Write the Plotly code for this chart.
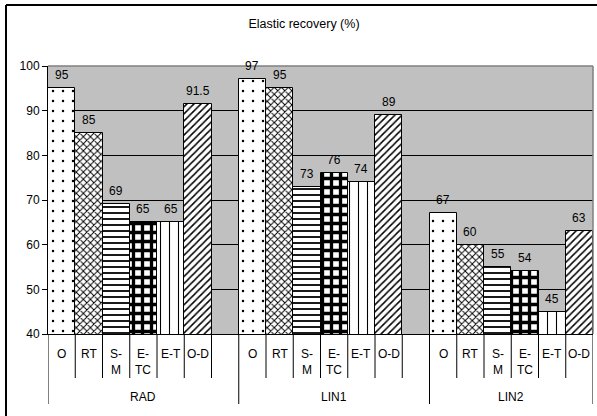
import plotly.graph_objects as go

# ---- data ----
groups = ["RAD", "LIN1", "LIN2"]
categories = ["O", "RT", "S-M", "E-TC", "E-T", "O-D"]
category_labels = ["O", "RT", "S-<br>M", "E-<br>TC", "E-T", "O-D"]
rad_values = [95, 85, 69, 65, 65, 91.5]
lin1_values = [97, 95, 73, 76, 74, 89]
lin2_values = [67, 60, 55, 54, 45, 63]
y_ticks = [40, 50, 60, 70, 80, 90, 100]
title_text = "Elastic recovery (%)"

group_values = [rad_values, lin1_values, lin2_values]
slots_per_group = len(categories) + 1  # one empty slot after each group (as in the original)
n_slots = slots_per_group * (len(groups) - 1) + len(categories)

patterns = {
    "O": dict(shape=".", size=10, solidity=0.05),
    "RT": dict(shape="x", size=5, solidity=0.35),
    "S-M": dict(shape="-", size=6, solidity=0.3),
    "E-TC": dict(shape="+", size=9, solidity=0.6),
    "E-T": dict(shape="|", size=9, solidity=0.12),
    "O-D": dict(shape="/", size=5, solidity=0.3),
}

FONT = "Liberation Sans, Arial, sans-serif"

fig = go.Figure()
annotations = []
for ci, cat in enumerate(categories):
    xs = [gi * slots_per_group + ci for gi in range(len(groups))]
    ys = [gv[ci] for gv in group_values]
    p = patterns[cat]
    fig.add_trace(go.Bar(
        x=xs, y=ys, width=1, name=cat,
        marker=dict(color="white", line=dict(color="black", width=1),
                    pattern=dict(shape=p["shape"], size=p["size"], solidity=p["solidity"],
                                 fgcolor="black", bgcolor="white", fillmode="replace")),
        showlegend=False, hoverinfo="x+y",
    ))
    for x, y in zip(xs, ys):
        annotations.append(dict(x=x, y=y, xref="x", yref="y", text=f"{y:g}", showarrow=False,
                                yanchor="bottom", yshift=4, font=dict(size=12, family=FONT, color="black")))
        annotations.append(dict(x=x, y=0, xref="x", yref="paper", text=category_labels[ci],
                                showarrow=False, yanchor="top", yshift=-11,
                                font=dict(size=12, family=FONT, color="black")))

# group labels
for gi, g in enumerate(groups):
    start = gi * slots_per_group - 0.5
    end = min(start + slots_per_group, n_slots - 0.5)
    annotations.append(dict(x=(start + end) / 2, y=0, xref="x", yref="paper", text=g, showarrow=False,
                            yanchor="top", yshift=-54, font=dict(size=12, family=FONT, color="black")))

plot_h = 416 - 66 - 82
shapes = []
group_bounds = [gi * slots_per_group for gi in range(len(groups))] + [n_slots]
for k in range(n_slots + 1):
    long = k in group_bounds
    depth = 70 if long else 44
    shapes.append(dict(type="line", xref="x", yref="paper", x0=k - 0.5, x1=k - 0.5,
                       y0=0, y1=-depth / plot_h, line=dict(color="black", width=1)))

# plot-area border (top / right, gray)
shapes.append(dict(type="line", xref="paper", yref="paper", x0=0, x1=1, y0=1, y1=1,
                   line=dict(color="#808080", width=1.5)))
shapes.append(dict(type="line", xref="paper", yref="paper", x0=1, x1=1, y0=0, y1=1,
                   line=dict(color="#808080", width=1.5)))
# chart border (top / left)
plot_w = 597 - 48 - 4
shapes.append(dict(type="line", xref="paper", yref="paper", x0=(6 - 48) / plot_w, x1=1.1,
                   y0=1 + (66 - 5) / plot_h, y1=1 + (66 - 5) / plot_h, line=dict(color="black", width=2)))
shapes.append(dict(type="line", xref="paper", yref="paper", x0=(6 - 48) / plot_w, x1=(6 - 48) / plot_w,
                   y0=1 + (66 - 5) / plot_h, y1=-0.5, line=dict(color="black", width=2)))

fig.update_layout(
    width=597, height=416,
    margin=dict(l=48, r=4, t=66, b=82),
    paper_bgcolor="white", plot_bgcolor="#C0C0C0",
    font=dict(family=FONT, size=12, color="black"),
    title=dict(text=title_text, x=304 / 597, xanchor="center", y=1 - 24 / 416, yanchor="middle",
               font=dict(size=12.5, family=FONT, color="black")),
    bargap=0, barmode="overlay",
    xaxis=dict(range=[-0.5, n_slots - 0.5], showticklabels=False, ticks="", showgrid=False,
               zeroline=False, showline=True, linecolor="black", linewidth=1, fixedrange=True),
    yaxis=dict(range=[40, 100], tickvals=y_ticks, ticks="outside", ticklen=5, tickcolor="black",
               showline=True, linecolor="black", linewidth=1, showgrid=True, gridcolor="black",
               gridwidth=1, zeroline=False, tickfont=dict(size=12, family=FONT, color="black"),
               fixedrange=True),
    annotations=annotations, shapes=shapes,
)

fig.write_html("out.html", config={"displayModeBar": False},
               post_script="document.body.style.margin='0';document.body.style.overflow='hidden';")
